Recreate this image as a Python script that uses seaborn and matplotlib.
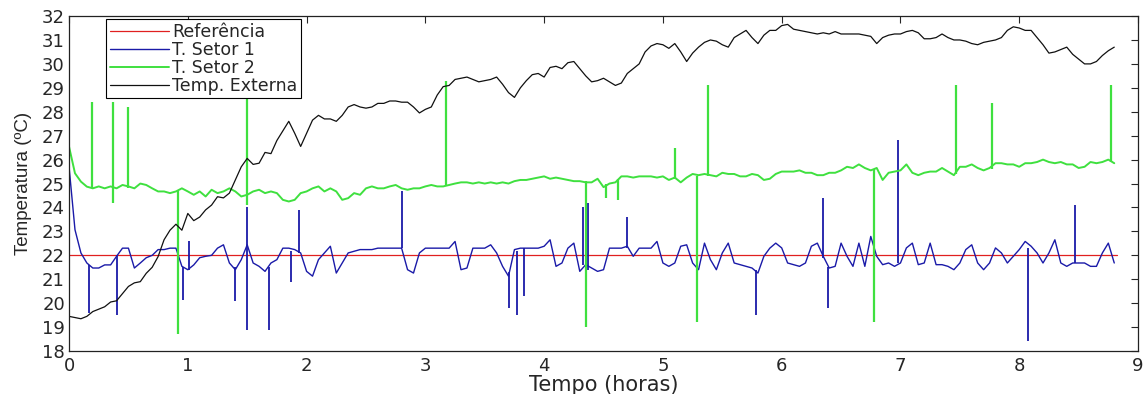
import matplotlib
matplotlib.use("Agg")
import matplotlib.pyplot as plt
import numpy as np
import pandas as pd
import seaborn as sns

# time axis (hours), one sample every 0.05 h
tempo = np.round(np.arange(0, 8.81, 0.05), 2)

# reference setpoint
ref_t = [0.0, 8.82]
ref_y = [22.0, 22.0]

# T. Setor 1 (blue)
setor1 = [25.7, 23.07, 22.1, 21.68, 21.47, 21.47, 21.6, 21.6, 21.96, 22.3,
          22.3, 21.47, 21.68, 21.9, 22.0, 22.24, 22.24, 22.3, 22.3, 21.54,
          21.4, 21.6, 21.9, 21.96, 22.0, 22.3, 22.44, 21.68, 21.4, 21.82,
          22.44, 21.68, 21.54, 21.33, 21.68, 21.82, 22.3, 22.3, 22.24, 22.1,
          21.33, 21.13, 21.82, 22.1, 22.38, 21.26, 21.68, 22.1, 22.17, 22.24,
          22.24, 22.24, 22.3, 22.3, 22.3, 22.3, 22.3, 21.4, 21.26, 22.1,
          22.3, 22.3, 22.3, 22.3, 22.3, 22.58, 21.4, 21.47, 22.3, 22.3,
          22.3, 22.44, 22.1, 21.54, 21.13, 22.24, 22.3, 22.3, 22.3, 22.3,
          22.38, 22.65, 21.54, 21.68, 22.3, 22.51, 21.33, 21.61, 21.47, 21.33,
          21.4, 22.3, 22.3, 22.3, 22.38, 21.96, 22.3, 22.3, 22.3, 22.58,
          21.68, 21.54, 21.68, 22.38, 22.44, 21.68, 21.4, 22.51, 21.82, 21.4,
          22.1, 22.51, 21.68, 21.61, 21.54, 21.47, 21.26, 21.96, 22.3, 22.51,
          22.31, 21.68, 21.61, 21.54, 21.68, 22.38, 22.51, 21.96, 21.47, 21.54,
          22.51, 21.96, 21.54, 22.51, 21.54, 22.79, 21.96, 21.61, 21.68, 21.54,
          21.68, 22.31, 22.51, 21.61, 21.68, 22.51, 21.61, 21.61, 21.54, 21.4,
          21.68, 22.24, 22.44, 21.68, 21.4, 21.68, 22.31, 22.1, 21.68, 21.96,
          22.24, 22.58, 22.38, 22.1, 21.68, 22.1, 22.65, 21.68, 21.54, 21.68,
          21.68, 21.68, 21.54, 21.54, 22.1, 22.51, 21.68]

# T. Setor 2 (green)
setor2 = [26.54, 25.43, 25.08, 24.87, 24.8, 24.88, 24.8, 24.88, 24.8, 24.94,
          24.88, 24.8, 25.0, 24.94, 24.8, 24.67, 24.67, 24.6, 24.67, 24.8,
          24.67, 24.53, 24.67, 24.46, 24.74, 24.6, 24.67, 24.8, 24.67, 24.46,
          24.53, 24.67, 24.74, 24.6, 24.67, 24.6, 24.32, 24.25, 24.32, 24.6,
          24.67, 24.8, 24.88, 24.67, 24.8, 24.67, 24.32, 24.39, 24.6, 24.53,
          24.8, 24.88, 24.8, 24.8, 24.88, 24.94, 24.8, 24.74, 24.8, 24.8,
          24.88, 24.94, 24.88, 24.88, 24.94, 25.0, 25.05, 25.05, 25.0, 25.05,
          25.0, 25.05, 25.0, 25.05, 25.0, 25.1, 25.15, 25.15, 25.2, 25.25,
          25.3, 25.2, 25.25, 25.2, 25.15, 25.1, 25.1, 25.05, 25.05, 25.2,
          24.85, 25.0, 25.05, 25.3, 25.3, 25.25, 25.3, 25.3, 25.3, 25.25,
          25.3, 25.15, 25.25, 25.05, 25.25, 25.4, 25.35, 25.4, 25.35, 25.3,
          25.45, 25.4, 25.4, 25.3, 25.3, 25.4, 25.35, 25.15, 25.2, 25.4,
          25.5, 25.5, 25.5, 25.55, 25.45, 25.45, 25.35, 25.35, 25.45, 25.45,
          25.55, 25.7, 25.65, 25.8, 25.65, 25.55, 25.65, 25.15, 25.45, 25.5,
          25.55, 25.8, 25.45, 25.35, 25.45, 25.5, 25.5, 25.65, 25.5, 25.35,
          25.7, 25.7, 25.8, 25.65, 25.55, 25.65, 25.85, 25.85, 25.8, 25.8,
          25.7, 25.85, 25.85, 25.9, 26.0, 25.9, 25.85, 25.9, 25.8, 25.8,
          25.65, 25.7, 25.9, 25.85, 25.9, 26.0, 25.85]

# Temp. Externa (black)
externa = [19.45, 19.4, 19.35, 19.45, 19.65, 19.75, 19.85, 20.05, 20.1, 20.4,
           20.7, 20.85, 20.9, 21.25, 21.5, 21.95, 22.65, 23.05, 23.3, 23.05,
           23.75, 23.45, 23.6, 23.9, 24.1, 24.45, 24.4, 24.6, 25.15, 25.7,
           26.05, 25.8, 25.85, 26.3, 26.25, 26.8, 27.2, 27.6, 27.1, 26.55,
           27.1, 27.65, 27.85, 27.7, 27.7, 27.6, 27.85, 28.2, 28.3, 28.2,
           28.15, 28.2, 28.35, 28.35, 28.45, 28.45, 28.4, 28.4, 28.2, 27.95,
           28.1, 28.2, 28.7, 29.05, 29.1, 29.35, 29.4, 29.45, 29.35, 29.25,
           29.3, 29.35, 29.45, 29.15, 28.8, 28.6, 29.0, 29.3, 29.55, 29.6,
           29.45, 29.85, 29.9, 29.8, 30.05, 30.1, 29.8, 29.5, 29.25, 29.3,
           29.4, 29.25, 29.1, 29.2, 29.6, 29.8, 30.0, 30.5, 30.75, 30.85,
           30.8, 30.65, 30.85, 30.5, 30.1, 30.45, 30.7, 30.9, 31.0, 30.95,
           30.8, 30.7, 31.1, 31.25, 31.4, 31.1, 30.85, 31.2, 31.4, 31.4,
           31.6, 31.65, 31.45, 31.4, 31.35, 31.3, 31.25, 31.3, 31.25, 31.35,
           31.25, 31.25, 31.25, 31.25, 31.2, 31.15, 30.85, 31.1, 31.2, 31.25,
           31.25, 31.35, 31.4, 31.3, 31.05, 31.05, 31.1, 31.25, 31.1, 31.0,
           31.0, 30.95, 30.85, 30.8, 30.9, 30.95, 31.0, 31.1, 31.4, 31.55,
           31.5, 31.4, 31.4, 31.1, 30.8, 30.45, 30.5, 30.6, 30.7, 30.4,
           30.2, 30.0, 30.0, 30.1, 30.35, 30.55, 30.7]

# isolated sensor spikes: time, low end, high end
s1_spk_t = [0.17, 0.40, 0.96, 1.01, 1.40, 1.50, 1.68, 1.87, 1.94, 2.80,
            3.70, 3.77, 3.83, 4.33, 4.37, 4.70, 5.78, 6.35, 6.39, 6.98,
            8.07, 8.47]
s1_spk_lo = [19.6, 19.5, 20.15, 21.4, 20.1, 18.9, 18.9, 20.9, 22.1, 22.3,
             19.8, 19.5, 20.3, 21.6, 21.4, 22.3, 19.5, 21.9, 19.8, 21.7,
             18.4, 21.7]
s1_spk_hi = [21.6, 22.0, 21.5, 22.6, 21.5, 24.0, 21.5, 22.2, 23.9, 24.7,
             21.3, 22.2, 22.3, 24.0, 24.2, 23.6, 21.4, 24.4, 21.5, 26.8,
             22.3, 24.1]

s2_spk_t = [0.19, 0.37, 0.50, 0.92, 1.50, 3.17, 4.35, 4.52, 4.62, 5.10,
            5.29, 5.38, 6.78, 7.47, 7.77, 8.77]
s2_spk_lo = [24.8, 24.2, 24.8, 18.7, 24.1, 24.9, 19.0, 24.4, 24.3, 25.2,
             19.2, 25.3, 19.2, 25.4, 25.6, 25.9]
s2_spk_hi = [28.4, 28.4, 28.2, 24.7, 28.7, 29.3, 25.1, 25.0, 25.2, 26.5,
             25.3, 29.1, 25.6, 29.1, 28.35, 29.1]

sns.set_style("white")
plt.rcParams['font.family'] = ['DejaVu Sans']

c_ref, c_s1, c_s2, c_ext = '#e02020', '#1a1aa8', '#3fe03f', '#101010'

df = pd.DataFrame({'tempo': tempo, 's1': setor1, 's2': setor2, 'ext': externa})
df_ref = pd.DataFrame({'tempo': ref_t, 'ref': ref_y})

fig = plt.figure(figsize=(11.45, 3.94), dpi=100)
ax = fig.add_axes([0.0603, 0.109, 0.9336, 0.8503])

sns.lineplot(data=df_ref, x='tempo', y='ref', ax=ax, color=c_ref, lw=0.9,
             label='Referência', estimator=None)
sns.lineplot(data=df, x='tempo', y='s1', ax=ax, color=c_s1, lw=1.0,
             label='T. Setor 1', estimator=None)
ax.vlines(s1_spk_t, s1_spk_lo, s1_spk_hi, color=c_s1, lw=1.3)
sns.lineplot(data=df, x='tempo', y='s2', ax=ax, color=c_s2, lw=1.4,
             label='T. Setor 2', estimator=None)
ax.vlines(s2_spk_t, s2_spk_lo, s2_spk_hi, color=c_s2, lw=1.6)
sns.lineplot(data=df, x='tempo', y='ext', ax=ax, color=c_ext, lw=0.9,
             label='Temp. Externa', estimator=None)

ax.set_xlim(0, 9)
ax.set_ylim(18, 32)
ax.set_xticks(range(0, 10))
ax.set_yticks(range(18, 33))
ax.tick_params(direction='in', top=True, right=True, length=5, width=0.8,
               labelsize=13)
ax.tick_params(axis='x', pad=4)
ax.tick_params(axis='y', pad=3)
for sp in ax.spines.values():
    sp.set_color('#222222')
    sp.set_linewidth(0.9)

ax.set_xlabel('Tempo (horas)', fontsize=15, labelpad=0)
ax.set_ylabel('Temperatura (ºC)', fontsize=13.5, labelpad=7,
              family=['Liberation Sans', 'DejaVu Sans'])

leg = ax.legend(loc='upper left', bbox_to_anchor=(0.035, 0.99), fontsize=12.5,
                handlelength=3.4, handletextpad=0.2, labelspacing=0.0,
                borderpad=0.2, borderaxespad=0, fancybox=False,
                framealpha=1)
leg.get_frame().set_edgecolor('black')
leg.get_frame().set_linewidth(0.8)

fig.savefig('out.png', dpi=100)
